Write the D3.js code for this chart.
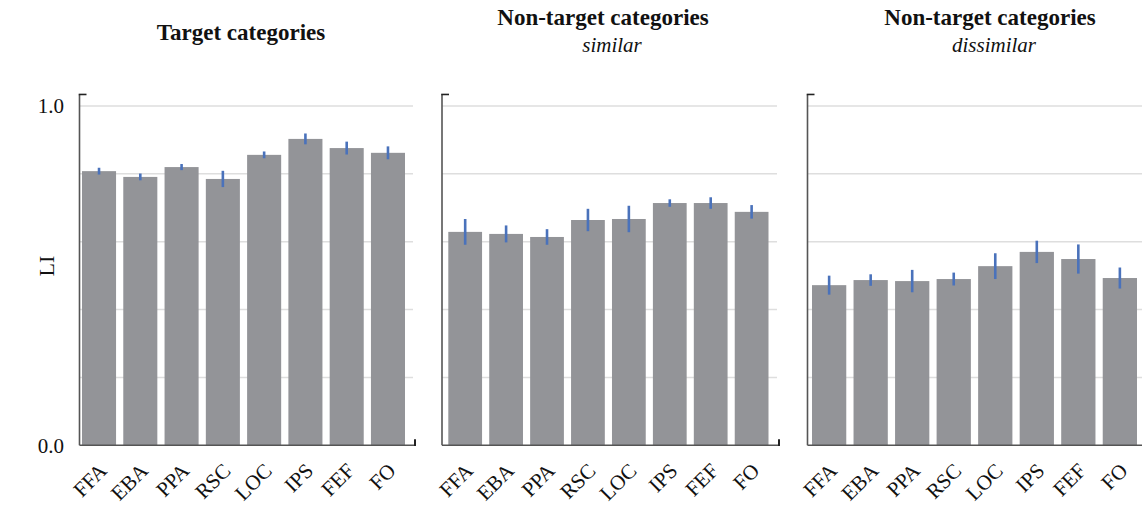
<!DOCTYPE html>
<html>
<head>
<meta charset="utf-8">
<script src="https://cdn.jsdelivr.net/npm/d3@7/dist/d3.min.js"></script>
<style>
  html, body { margin: 0; padding: 0; background: #fff; }
  svg { display: block; }
  text { font-family: "Liberation Serif", "Times New Roman", serif; fill: #111; }
</style>
</head>
<body>
<svg id="chart" width="1142" height="505"></svg>
<script>
// Lateralization index (LI) per region of interest, mean ± error
const regions = ["FFA", "EBA", "PPA", "RSC", "LOC", "IPS", "FEF", "FO"];

const targetLI      = [0.808, 0.791, 0.820, 0.785, 0.856, 0.903, 0.876, 0.862];
const targetErr     = [0.010, 0.010, 0.009, 0.024, 0.010, 0.016, 0.019, 0.019];

const similarLI     = [0.629, 0.623, 0.614, 0.664, 0.667, 0.714, 0.714, 0.688];
const similarErr    = [0.038, 0.025, 0.023, 0.033, 0.039, 0.011, 0.017, 0.020];

const dissimilarLI  = [0.472, 0.487, 0.484, 0.490, 0.528, 0.570, 0.549, 0.493];
const dissimilarErr = [0.028, 0.017, 0.033, 0.019, 0.038, 0.033, 0.043, 0.031];

const panelTitles    = ["Target categories", "Non-target categories", "Non-target categories"];
const panelSubtitles = ["", "similar", "dissimilar"];

const gridValues = [0.2, 0.4, 0.6, 0.8, 1.0];
const yTickValues = [0.0, 1.0];
const yLabel = "LI";

// layout
const svg = d3.select("#chart");
const y = d3.scaleLinear().domain([0, 1]).range([445.3, 106]);
const axisTopValue = 1.034;

const panels = [
  { title: panelTitles[0], sub: panelSubtitles[0], values: targetLI, errs: targetErr,
    axisX: 79.5, band: [82, 405], gridEnd: 413, lineEnd: 415, titleX: 241, titleY: 40 },
  { title: panelTitles[1], sub: panelSubtitles[1], values: similarLI, errs: similarErr,
    axisX: 442, band: [448.3, 768.5], gridEnd: 777, lineEnd: 779, titleX: 603, titleY: 25, subX: 612, subY: 52 },
  { title: panelTitles[2], sub: panelSubtitles[2], values: dissimilarLI, errs: dissimilarErr,
    axisX: 807.5, band: [812, 1137], gridEnd: 1142, lineEnd: 1143, titleX: 990, titleY: 25, subX: 994, subY: 52 }
];

const barColor = "#939498";
const errColor = "#4a72bb";
const gridColor = "#dedede";
const axisColor = "#555";
const capColor = "#222";

panels.forEach((p, pi) => {
  const g = svg.append("g");
  const x = d3.scaleBand().domain(regions).range(p.band).paddingInner(0.175).paddingOuter(0);

  // horizontal grid
  g.selectAll("line.grid").data(gridValues).join("line")
    .attr("class", "grid")
    .attr("x1", p.axisX).attr("x2", p.gridEnd)
    .attr("y1", d => y(d)).attr("y2", d => y(d))
    .attr("stroke", gridColor).attr("stroke-width", 1.5);

  // bars
  g.selectAll("rect.bar").data(regions).join("rect")
    .attr("class", "bar")
    .attr("x", d => x(d))
    .attr("width", x.bandwidth())
    .attr("y", (d, i) => y(p.values[i]))
    .attr("height", (d, i) => y(0) - y(p.values[i]))
    .attr("fill", barColor);

  // error bars
  g.selectAll("line.err").data(regions).join("line")
    .attr("class", "err")
    .attr("x1", d => x(d) + x.bandwidth() / 2)
    .attr("x2", d => x(d) + x.bandwidth() / 2)
    .attr("y1", (d, i) => y(p.values[i] + p.errs[i]))
    .attr("y2", (d, i) => y(p.values[i] - p.errs[i]))
    .attr("stroke", errColor).attr("stroke-width", 2.6);

  // axis frame: left spine with top cap, bottom spine with right cap
  g.append("line")
    .attr("x1", p.axisX).attr("x2", p.axisX)
    .attr("y1", y(axisTopValue)).attr("y2", y(0))
    .attr("stroke", axisColor).attr("stroke-width", 1.6);
  g.append("line")
    .attr("x1", p.axisX - 0.8).attr("x2", p.axisX + 7)
    .attr("y1", y(axisTopValue)).attr("y2", y(axisTopValue))
    .attr("stroke", capColor).attr("stroke-width", 1.6);
  g.append("line")
    .attr("x1", p.axisX).attr("x2", p.lineEnd)
    .attr("y1", y(0)).attr("y2", y(0))
    .attr("stroke", axisColor).attr("stroke-width", 1.6);
  g.append("line")
    .attr("x1", p.lineEnd).attr("x2", p.lineEnd)
    .attr("y1", y(0) + 0.8).attr("y2", y(0) - 6)
    .attr("stroke", capColor).attr("stroke-width", 2);

  // category labels
  g.selectAll("text.cat").data(regions).join("text")
    .attr("class", "cat")
    .attr("text-anchor", "end")
    .attr("font-size", 21)
    .attr("transform", d => `translate(${x(d) + x.bandwidth() / 2 + 9},${472}) rotate(-45)`)
    .text(d => d);

  // titles
  g.append("text")
    .attr("x", p.titleX).attr("y", p.titleY)
    .attr("text-anchor", "middle")
    .attr("font-size", 23).attr("font-weight", "bold")
    .text(p.title);
  if (p.sub) {
    g.append("text")
      .attr("x", p.subX).attr("y", p.subY)
      .attr("text-anchor", "middle")
      .attr("font-size", 21).attr("font-style", "italic")
      .text(p.sub);
  }

  // y tick labels on the first panel only
  if (pi === 0) {
    g.selectAll("text.ytick").data(yTickValues).join("text")
      .attr("class", "ytick")
      .attr("x", 64)
      .attr("y", d => y(d))
      .attr("dy", "0.35em")
      .attr("text-anchor", "end")
      .attr("font-size", 21)
      .text(d => d3.format(".1f")(d));
    g.append("text")
      .attr("transform", `translate(54,${266}) rotate(-90)`)
      .attr("text-anchor", "middle")
      .attr("font-size", 22)
      .text(yLabel);
  }
});
</script>
</body>
</html>
